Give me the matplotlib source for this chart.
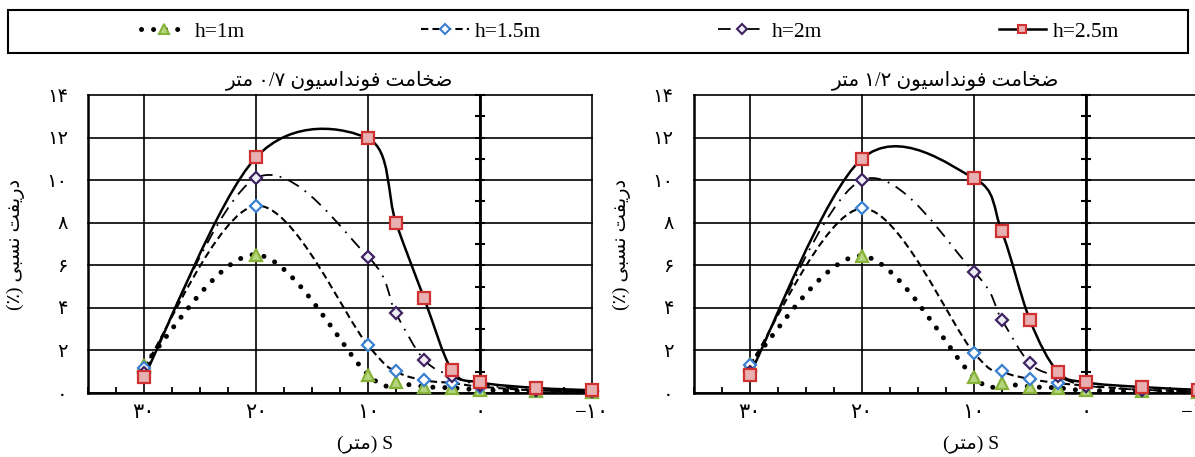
import numpy as np
import matplotlib
matplotlib.use('Agg')
import matplotlib.pyplot as plt
from matplotlib.path import Path
from matplotlib.patches import PathPatch, Rectangle
from matplotlib.lines import Line2D
from matplotlib.ticker import MultipleLocator
from matplotlib import font_manager, ft2font

# داده‌ها
s = [30, 20, 10, 7.5, 5, 2.5, 0, -5, -10]

h1_a = [1.33, 6.5, 0.86, 0.5, 0.3, 0.24, 0.15, 0.08, 0.05]
h15_a = [1.18, 8.8, 2.24, 1.02, 0.6, 0.47, 0.3, 0.12, 0.08]
h2_a = [0.94, 10.1, 6.4, 3.74, 1.57, 0.78, 0.4, 0.15, 0.08]
h25_a = [0.74, 11.07, 11.96, 8.0, 4.47, 1.07, 0.5, 0.24, 0.13]

h1_b = [1.38, 6.44, 0.75, 0.47, 0.3, 0.24, 0.12, 0.08, 0.05]
h15_b = [1.3, 8.67, 1.9, 1.02, 0.66, 0.47, 0.35, 0.15, 0.08]
h2_b = [1.0, 10.0, 5.7, 3.45, 1.4, 0.78, 0.35, 0.15, 0.08]
h25_b = [0.86, 11.0, 10.1, 7.6, 3.45, 1.0, 0.5, 0.28, 0.15]

labels = ['h=1m', 'h=1.5m', 'h=2m', 'h=2.5m']
titles = ['ضخامت فونداسیون ۰/۷ متر', 'ضخامت فونداسیون ۱/۲ متر']
ylabel = 'دریفت نسبی (٪)'
xlabel = 'S (متر)'
xticks = [30, 20, 10, 0, -10]
yticks = [0, 2, 4, 6, 8, 10, 12, 14]

# شکل‌دهی ساده حروف فارسی (matplotlib خودش این کار را نمی‌کند)
FORMS = {
    'ا': ('\uFE8D', '\uFE8E', None, None),
    'ب': ('\uFE8F', '\uFE90', '\uFE91', '\uFE92'),
    'ت': ('\uFE95', '\uFE96', '\uFE97', '\uFE98'),
    'خ': ('\uFEA5', '\uFEA6', '\uFEA7', '\uFEA8'),
    'د': ('\uFEA9', '\uFEAA', None, None),
    'ر': ('\uFEAD', '\uFEAE', None, None),
    'س': ('\uFEB1', '\uFEB2', '\uFEB3', '\uFEB4'),
    'ض': ('\uFEBD', '\uFEBE', '\uFEBF', '\uFEC0'),
    'ف': ('\uFED1', '\uFED2', '\uFED3', '\uFED4'),
    'م': ('\uFEE1', '\uFEE2', '\uFEE3', '\uFEE4'),
    'ن': ('\uFEE5', '\uFEE6', '\uFEE7', '\uFEE8'),
    'و': ('\uFEED', '\uFEEE', None, None),
    'ی': ('\uFBFC', '\uFBFD', '\uFBFE', '\uFBFF'),
}
ft = ft2font.FT2Font(font_manager.findfont('DejaVu Sans'))
if ft.get_char_index(0xFBFE) == 0:
    FORMS['ی'] = ('\uFEEF', '\uFEF0', '\uFEF3', '\uFEF4')


def shape_word(w):
    out = []
    for i, ch in enumerate(w):
        if ch not in FORMS:
            out.append(ch)
            continue
        prev = w[i - 1] if i > 0 else ''
        nxt = w[i + 1] if i + 1 < len(w) else ''
        jp = prev in FORMS and FORMS[prev][2] is not None
        jn = FORMS[ch][2] is not None and nxt in FORMS
        iso, fin, ini, med = FORMS[ch]
        out.append(med if jp and jn else fin if jp else ini if jn else iso)
    vis = ''.join(reversed(out))
    return vis.translate(str.maketrans('()', ')('))


def rtl(text):
    words = text.split(' ')
    vis = [shape_word(w) if any(c in FORMS for c in w) else w for w in words]
    return ' '.join(reversed(vis))


fa = str.maketrans('0123456789-', '۰۱۲۳۴۵۶۷۸۹−')
FAM = ['Liberation Serif', 'DejaVu Sans']


def smooth_path(x, y):
    pts = np.column_stack([x, y]).astype(float)
    n = len(pts)
    verts = [pts[0]]
    codes = [Path.MOVETO]
    for i in range(n - 1):
        p0 = pts[max(i - 1, 0)]
        p1 = pts[i]
        p2 = pts[i + 1]
        p3 = pts[min(i + 2, n - 1)]
        verts += [p1 + (p2 - p0) / 6, p2 - (p3 - p1) / 6, p2]
        codes += [Path.CURVE4] * 3
    return Path(verts, codes)


styles = [
    dict(ls=(0, (0.01, 2.4)), lw=3.6, cap='round', marker='^', ms=8.5, mfc='#b5d67e', mec='#86b23a'),
    dict(ls=(0, (3.5, 2)), lw=1.5, cap='butt', marker='D', ms=6.5, mfc='white', mec='#3a7fd0'),
    dict(ls=(0, (7, 4, 1, 4)), lw=1.3, cap='butt', marker='D', ms=6.5, mfc='#f0ecf6', mec='#3d2260'),
    dict(ls='-', lw=1.8, cap='butt', marker='s', ms=8, mfc='#e8b0b0', mec='#d03030'),
]

fig = plt.figure(figsize=(11.95, 4.57), dpi=100)
ax1 = fig.add_axes([0.0736, 0.140, 0.4218, 0.652])
ax2 = fig.add_axes([0.5805, 0.140, 0.4218, 0.652])

for ax, series, title in [(ax1, [h1_a, h15_a, h2_a, h25_a], titles[0]),
                          (ax2, [h1_b, h15_b, h2_b, h25_b], titles[1])]:
    ax.set_xlim(35, -10)
    ax.set_ylim(0, 14)
    ax.xaxis.set_minor_locator(MultipleLocator(2.5))
    ax.yaxis.set_minor_locator(MultipleLocator(1))
    ax.grid(True, which='major', color='black', lw=1.2, clip_on=False)
    ax.set_axisbelow(True)

    for sp in ['left', 'bottom']:
        ax.spines[sp].set_linewidth(1.8)
    ax.spines['top'].set_visible(False)
    ax.spines['right'].set_position(('data', 0))
    ax.spines['right'].set_linewidth(2)

    ax.tick_params(axis='x', which='major', length=0, pad=8)
    ax.tick_params(axis='x', which='minor', direction='in', length=4, width=1.3, top=False)
    ax.tick_params(axis='y', which='both', left=False, right=True, direction='inout',
                   length=7, width=1.5, labelleft=True, labelright=False, pad=11)

    ax.set_xticks(xticks)
    ax.set_xticklabels([str(v).translate(fa) for v in xticks], family=FAM, fontsize=15)
    ax.set_yticks(yticks)
    ax.set_yticklabels([str(v).translate(fa) for v in yticks], family=FAM, fontsize=14)

    for y, st in zip(series, styles):
        patch = PathPatch(smooth_path(s, y), fill=False, edgecolor='black',
                          lw=st['lw'], linestyle=st['ls'], clip_on=False, zorder=3)
        patch.set_capstyle(st['cap'])
        ax.add_patch(patch)
    for y, st in zip(series, styles):
        ax.plot(s, y, ls='none', marker=st['marker'], ms=st['ms'], mfc=st['mfc'],
                mec=st['mec'], mew=1.6, clip_on=False, zorder=4)

    ax.set_title(rtl(title), family=FAM, fontsize=14.5, pad=7)
    ax.set_ylabel(rtl(ylabel), family=FAM, fontsize=14)
    ax.yaxis.set_label_coords(-0.125, 0.5)
    ax.set_xlabel(rtl(xlabel), family=FAM, fontsize=14)
    ax.xaxis.set_label_coords(0.55, -0.14)

# راهنما
handles = []
for st in styles:
    h = Line2D([], [], color='black', lw=st['lw'], ls=st['ls'], marker=st['marker'],
               ms=st['ms'] * 0.8, mfc=st['mfc'], mec=st['mec'], mew=1.5)
    h.set_dash_capstyle(st['cap'])
    handles.append(h)
fig.patches.append(Rectangle((0.007, 0.884), 0.987, 0.094, transform=fig.transFigure,
                             fill=False, lw=1.5, edgecolor='black'))
fig.legend(handles, labels, loc='center', bbox_to_anchor=(0.527, 0.931), ncol=4,
           frameon=False, prop={'family': 'Liberation Serif', 'size': 15.5},
           handlelength=2.2, handletextpad=0.3, columnspacing=8.2)

fig.savefig('out.png', dpi=100)
